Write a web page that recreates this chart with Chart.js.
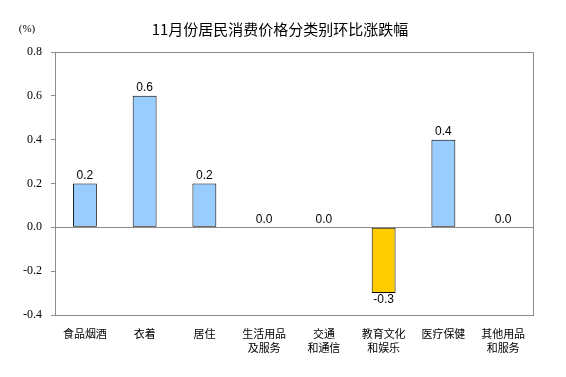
<!DOCTYPE html>
<html>
<head>
<meta charset="utf-8">
<script src="https://cdn.jsdelivr.net/npm/chart.js@4/dist/chart.umd.min.js"></script>
<style>
  html, body { margin: 0; padding: 0; background: #fff; }
</style>
</head>
<body>
<canvas id="cpi" width="566" height="377"></canvas>
<script>
const categories = [
    '食品烟酒', '衣着', '居住', ['生活用品', '及服务'],
    ['交通', '和通信'], ['教育文化', '和娱乐'], '医疗保健', ['其他用品', '和服务']
];
const changes = [0.2, 0.6, 0.2, 0.0, 0.0, -0.3, 0.4, 0.0];
const yTicks = [-0.4, -0.2, 0.0, 0.2, 0.4, 0.6, 0.8];

const titleText = '11月份居民消费价格分类别环比涨跌幅';
const unitText = '(%)';

const frameColor = '#8c8c8c';

const extras = {
    id: 'extras',
    afterDraw(chart) {
        const { ctx, chartArea: a, scales } = chart;
        ctx.save();
        // top & right frame, zero line
        ctx.strokeStyle = frameColor;
        ctx.lineWidth = 1;
        ctx.beginPath();
        ctx.moveTo(a.left, a.top + 0.5);
        ctx.lineTo(a.right + 0.5, a.top + 0.5);
        ctx.lineTo(a.right + 0.5, a.bottom);
        const z = Math.round(scales.y.getPixelForValue(0)) + 0.5;
        ctx.moveTo(a.left, z);
        ctx.lineTo(a.right, z);
        ctx.stroke();

        // title + unit
        ctx.fillStyle = '#000';
        ctx.textAlign = 'center';
        ctx.textBaseline = 'middle';
        ctx.font = '15px "Noto Sans CJK SC"';
        ctx.fillText(titleText, 280, 29);
        ctx.font = '11px "Liberation Serif"';
        ctx.fillText(unitText, 27, 29);

        // value labels
        ctx.font = '12px "Liberation Sans"';
        const meta = chart.getDatasetMeta(0);
        meta.data.forEach((bar, i) => {
            const v = changes[i];
            if (v < 0) {
                ctx.textBaseline = 'top';
                ctx.fillText(v.toFixed(1), bar.x, bar.y + 1);
            } else {
                ctx.textBaseline = 'bottom';
                ctx.fillText(v.toFixed(1), bar.x, bar.y - 2);
            }
        });
        ctx.restore();
    }
};

new Chart(document.getElementById('cpi'), {
    type: 'bar',
    data: {
        labels: categories,
        datasets: [{
            data: changes,
            backgroundColor: changes.map(v => v < 0 ? '#ffcc00' : '#99ccff'),
            borderColor: '#000',
            borderWidth: 1,
            borderSkipped: false,
            barPercentage: 0.4,
            categoryPercentage: 1
        }]
    },
    options: {
        responsive: false,
        animation: false,
        devicePixelRatio: 1,
        layout: { padding: { top: 52, right: 33, left: 0, bottom: 0 } },
        plugins: {
            legend: { display: false },
            title: { display: false },
            tooltip: { enabled: false }
        },
        scales: {
            x: {
                grid: { display: false, drawTicks: false },
                border: { display: true, color: frameColor },
                ticks: {
                    color: '#000',
                    padding: 12,
                    maxRotation: 0,
                    autoSkip: false,
                    font: { family: '"Noto Sans CJK SC"', size: 11, lineHeight: 1.25 }
                },
                afterFit(s) { s.height = 62; }
            },
            y: {
                min: -0.4,
                max: 0.8,
                afterBuildTicks(s) { s.ticks = yTicks.map(v => ({ value: v })); },
                grid: { drawOnChartArea: false, drawTicks: true, tickLength: 4, color: frameColor },
                border: { display: true, color: frameColor },
                ticks: {
                    color: '#000',
                    padding: 9,
                    font: { family: '"Liberation Serif"', size: 12 },
                    callback: v => Number(v).toFixed(1)
                },
                afterFit(s) { s.width = 55; }
            }
        }
    },
    plugins: [extras]
});
</script>
</body>
</html>
